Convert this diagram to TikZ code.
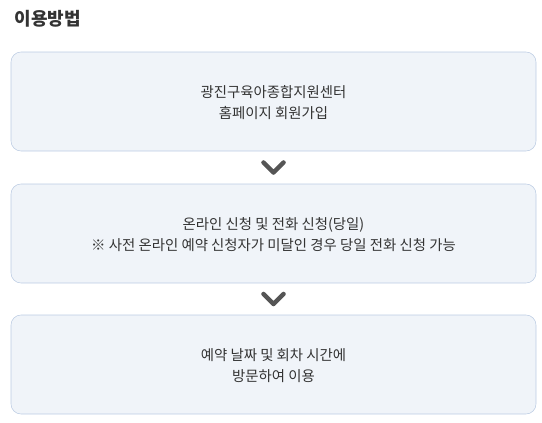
\documentclass[tikz,border=0pt]{standalone}
\usepackage{fontspec}
\setmainfont{Noto Sans CJK KR}
\usepackage{tikz}
\usepackage{xcolor}

\definecolor{boxline}{HTML}{BCCCE3}
\definecolor{boxfill}{HTML}{F0F4F9}
\definecolor{txtgray}{HTML}{333333}
\definecolor{chevgray}{HTML}{555555}

\begin{document}
\begin{tikzpicture}[x=0.75pt,y=-0.75pt,
	stepbox/.style={
  		draw=boxline,
  		fill=boxfill,
  		rounded corners=7.5pt,
  		inner sep=0pt,
  		minimum width=393.75pt,
  		minimum height=74.25pt,
  		align=center,
  		text=txtgray,
  		font=\fontsize{10.8}{15.75}\selectfont,
  		text height=27pt,
  		text depth=1.5pt
  	},
	chev/.style={
		draw=chevgray,
		line width=3.4pt,
		line cap=round,
		line join=round
	}]

	\useasboundingbox (0,0) rectangle (542,422);

	\node[anchor=west,text=txtgray,font=\fontsize{13.5}{16}\selectfont\bfseries] (title) at (10,19) {이용방법};

	\node[stepbox] (s1) at (273.5,101.5) {광진구육아종합지원센터\\홈페이지 회원가입};
	\node[stepbox] (s2) at (273.5,233.5) {온라인 신청 및 전화 신청(당일)\\※ 사전 온라인 예약 신청자가 미달인 경우 당일 전화 신청 가능};
	\node[stepbox] (s3) at (273.5,364.5) {예약 날짜 및 회차 시간에\\방문하여 이용};

	% chevrons between the steps
	\path (s1.south) -- (s2.north) coordinate[pos=0.5] (m1);
	\path (s2.south) -- (s3.north) coordinate[pos=0.5] (m2);
  	\draw[chev] ([xshift=-7.5pt,yshift=3.75pt]m1) -- ([yshift=-3.75pt]m1) -- ([xshift=7.5pt,yshift=3.75pt]m1);
  	\draw[chev] ([xshift=-7.5pt,yshift=3.75pt]m2) -- ([yshift=-3.75pt]m2) -- ([xshift=7.5pt,yshift=3.75pt]m2);
\end{tikzpicture}
\end{document}
